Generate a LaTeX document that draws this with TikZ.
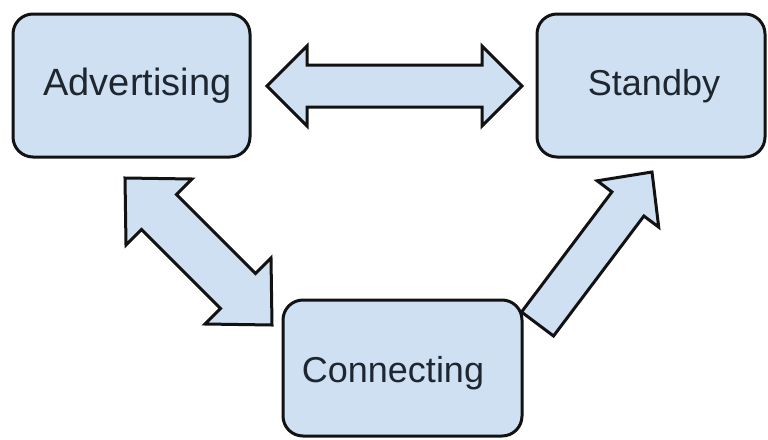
\documentclass[tikz,border=0pt]{standalone}
\usepackage{fontspec}
\setmainfont{Liberation Sans}
\definecolor{boxfill}{HTML}{CFE0F2}
\definecolor{boxline}{HTML}{121212}
\definecolor{labeltext}{HTML}{1E2630}
\begin{document}
\begin{tikzpicture}[x=1pt,y=-1pt,
  statebox/.style={draw=boxline, fill=boxfill, line width=3pt,
    rounded corners=20pt, inner sep=0pt, outer sep=0pt},
  statelabel/.style={text=labeltext, inner sep=0pt,
    font=\fontsize{36}{40}\selectfont},
  blockarrow/.style={draw=boxline, fill=boxfill, line width=3pt,
    line join=miter, miter limit=10}]
  \useasboundingbox (0,0) rectangle (768,439);

  % block arrows between the states
  \draw[blockarrow] (267,86) -- (307,46) -- (307,65) -- (482,65) -- (482,46)
    -- (522,86) -- (482,126) -- (482,107) -- (307,107) -- (307,126) -- cycle;
  \draw[blockarrow] (125,178) -- (192,179) -- (176.5,194.5) -- (255.5,273.5)
    -- (271,258) -- (272,325) -- (205,324) -- (220.5,308.5) -- (141.5,229.5)
    -- (126,245) -- cycle;
  \draw[blockarrow] (521.5,312) -- (611.9,191.9) -- (597.2,180.8) -- (652,172)
    -- (658.7,227.1) -- (643.9,216) -- (553.5,336) -- cycle;

  % states
  \node[statebox, minimum width=237pt, minimum height=143pt] (adv) at (131.5,85.5) {};
  \node[statebox, minimum width=228pt, minimum height=143pt] (stb) at (651,85.5) {};
  \node[statebox, minimum width=239pt, minimum height=136pt] (con) at (402.5,368) {};

  \node[statelabel, font=\fontsize{38}{42}\selectfont] (advtext) at (137.5,86) {Advertising};
  \node[statelabel] (stbtext) at (654,86) {Standby};
  \node[statelabel] (context) at (393,373) {Connecting};
\end{tikzpicture}
\end{document}
